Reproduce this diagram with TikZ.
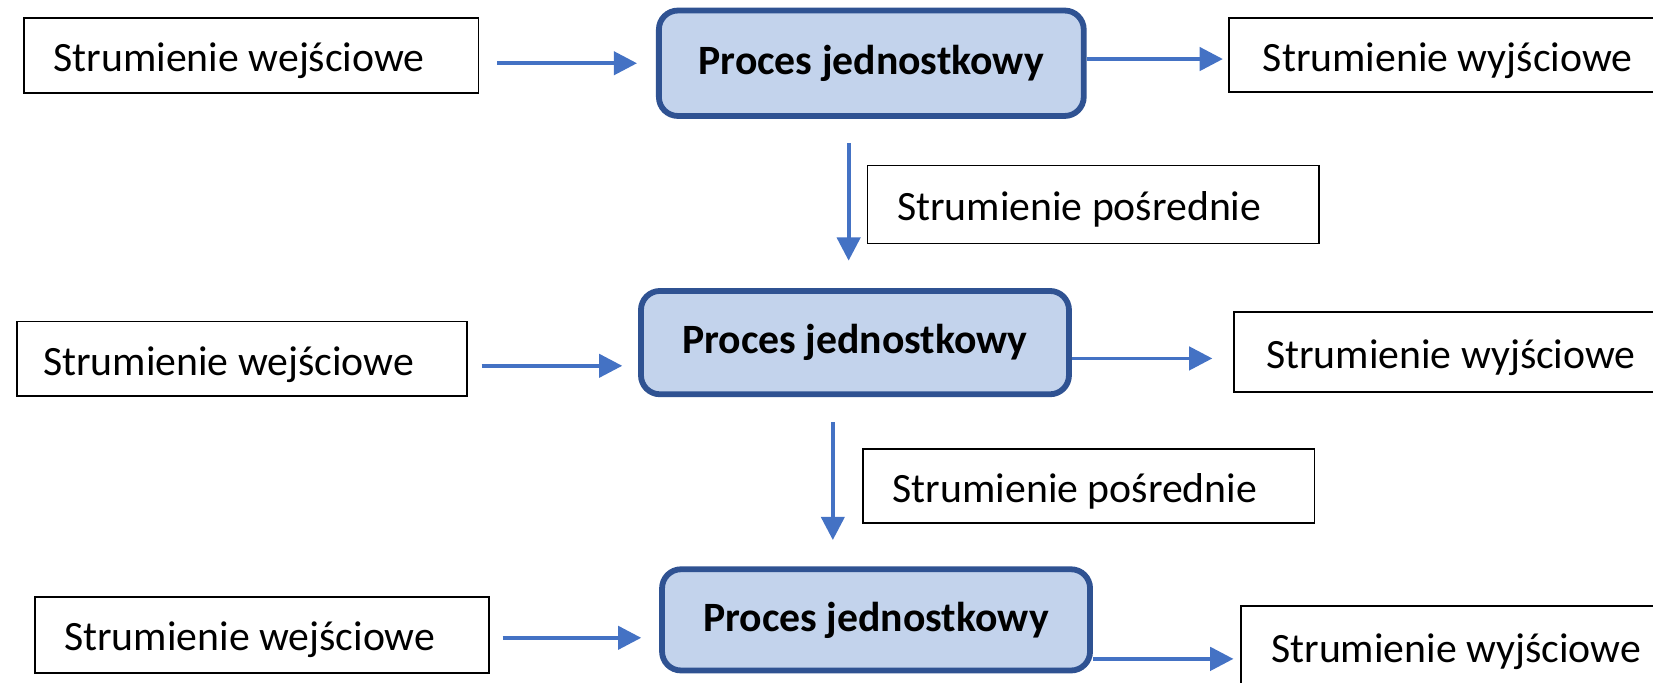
\documentclass[tikz,border=0pt]{standalone}
\usepackage{fontspec}
\setmainfont{Carlito}
\usetikzlibrary{arrows.meta}
\definecolor{procfill}{HTML}{C3D3EC}
\definecolor{procline}{HTML}{2F5292}
\definecolor{arrblue}{HTML}{4472C4}
\tikzset{
  stream/.style={draw=black, line width=1.8pt, fill=white, anchor=west, inner xsep=28pt, inner ysep=0pt,
    align=flush left, text height=40pt, text depth=9pt, font=\fontsize{39.6}{46}\selectfont},
  procbox/.style={draw=procline, line width=5.5pt, fill=procfill, rounded corners=18pt,
    inner sep=0pt, font=\fontsize{39.6}{46}\selectfont\bfseries},
  arr/.style={draw=arrblue, line width=3.6pt, -{Triangle[length=22pt,width=22pt]}}
}
\begin{document}
\begin{tikzpicture}[x=1pt,y=-1pt]
\useasboundingbox (0,0) rectangle (1568,647);
\clip (0,0) rectangle (1568,647);
% row 1
\node[stream, text width=375pt, minimum height=71pt] (in1) at (22,52.5) {Strumienie wejściowe};
\node[procbox, minimum width=403pt, minimum height=100pt] (p1) at (826.5,60) {Proces jednostkowy};
\node[stream, text width=400pt, inner xsep=32pt, minimum height=70pt] (out1) at (1165,52) {Strumienie wyjściowe};
% intermediate 1
\node[stream, text width=372pt, minimum height=74pt] (mid1) at (822,194) {Strumienie pośrednie};
% row 2
\node[procbox, minimum width=406pt, minimum height=98pt] (p2) at (811,325) {Proces jednostkowy};
\node[stream, text width=377pt, inner xsep=25pt, minimum height=71pt] (in2) at (15,340.5) {Strumienie wejściowe};
\node[stream, text width=400pt, inner xsep=30pt, minimum height=76pt] (out2) at (1170,334) {Strumienie wyjściowe};
% intermediate 2
\node[stream, text width=372pt, minimum height=70pt] (mid2) at (818,461) {Strumienie pośrednie};
% row 3
\node[procbox, minimum width=406pt, minimum height=96pt] (p3) at (831,588) {Proces jednostkowy};
\node[stream, text width=375pt, minimum height=72pt] (in3) at (32,602) {Strumienie wejściowe};
\node[stream, text width=400pt, inner xsep=29pt, minimum height=76pt] (out3) at (1176,613) {Strumienie wyjściowe};
% arrows row 1
\draw[arr] ([xshift=17pt,yshift=-7.5pt]in1.east) -- ([xshift=-18pt]p1.west);
\draw[arr] ([yshift=4pt]p1.east) -- ([xshift=-5pt,yshift=-4pt]out1.west);
% vertical 1
\draw[arr] ([xshift=-21.5pt,yshift=-23pt]p1.south) -- ([xshift=-6pt,yshift=26pt]p2.north);
% arrows row 2
\draw[arr] ([xshift=13pt,yshift=-6.5pt]in2.east) -- ([xshift=-15pt,yshift=-22pt]p2.west);
\draw[arr] ([yshift=-15pt]p2.east) -- ([xshift=-20pt,yshift=-6pt]out2.west);
% vertical 2
\draw[arr] ([xshift=-21pt,yshift=-24pt]p2.south) -- ([xshift=-41pt,yshift=25pt]p3.north);
% arrows row 3
\draw[arr] ([xshift=12pt,yshift=-3pt]in3.east) -- ([xshift=-17pt,yshift=-17pt]p3.west);
\draw[arr] ([yshift=-37pt]p3.east) -- ([xshift=-6pt,yshift=-12pt]out3.west);
\end{tikzpicture}
\end{document}
